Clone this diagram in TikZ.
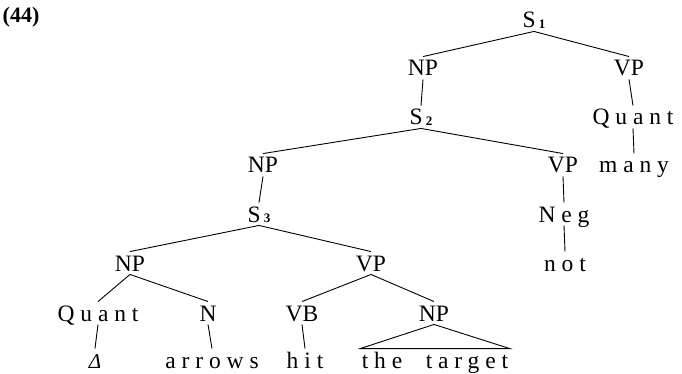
\documentclass[tikz,border=0pt]{standalone}
\usepackage{fontspec}
\setmainfont{Liberation Serif}
\newfontfamily\spaced[LetterSpace=25]{Liberation Serif}
\newcommand{\subidx}[1]{\kern3pt\raisebox{-0.5pt}{\fontsize{13}{13}\selectfont\bfseries #1}}
\tikzset{
    cat/.style={inner xsep=1pt, inner ysep=3pt, text height=16pt, text depth=0pt,
        font=\fontsize{23.5}{28}\selectfont},
    word/.style={cat, font=\fontsize{23.5}{28}\selectfont\spaced},
}
\begin{document}
\begin{tikzpicture}[x=1pt, y=-1pt, line width=0.9pt]
    \useasboundingbox (0,0) rectangle (682,374);
    \node[font=\fontsize{22}{24}\selectfont\bfseries] (num) at (21,17) {(44)};
    \node[cat] (s1) at (534,20) {S\subidx{1}};
    \node[cat] (np1) at (423,68) {NP};
    \node[cat] (vp1) at (629,68) {VP};
    \node[cat] (s2) at (421,117) {S\subidx{2}};
    \node[word] (quantr) at (633,117) {Quant};
    \node[word] (many) at (634,165) {many};
    \node[cat] (np2) at (263,165) {NP};
    \node[cat] (vp2) at (563,165) {VP};
    \node[cat] (s3) at (259,214) {S\subidx{3}};
    \node[word] (neg) at (564,214) {Neg};
    \node[word] (not) at (565,263) {not};
    \node[cat] (np3) at (130,263) {NP};
    \node[cat] (vp3) at (371,263) {VP};
    \node[word] (quantl) at (98,313) {Quant};
    \node[cat] (n) at (208,313) {N};
    \node[cat] (vb) at (302,313) {VB};
    \node[cat] (np4) at (434,313) {NP};
    \node[cat, font=\fontsize{21}{22}\selectfont\itshape] (delta) at (95,360) {Δ};
    \node[word] (arrows) at (212,360) {arrows};
    \node[word] (hit) at (305,360) {hit};
    \node[word] (target) at (435,360) {the~~target};
    \foreach \p/\c in {s1/np1, s1/vp1, np1/s2, vp1/quantr, quantr/many,
        s2/np2, s2/vp2, np2/s3, vp2/neg, neg/not,
        s3/np3, s3/vp3, np3/quantl, np3/n, vp3/vb, vp3/np4,
        quantl/delta, n/arrows, vb/hit}
        \draw (\p.south) -- (\c.north);
    \draw (np4.south) -- (target.north west) -- (target.north east) -- cycle;
\end{tikzpicture}
\end{document}
